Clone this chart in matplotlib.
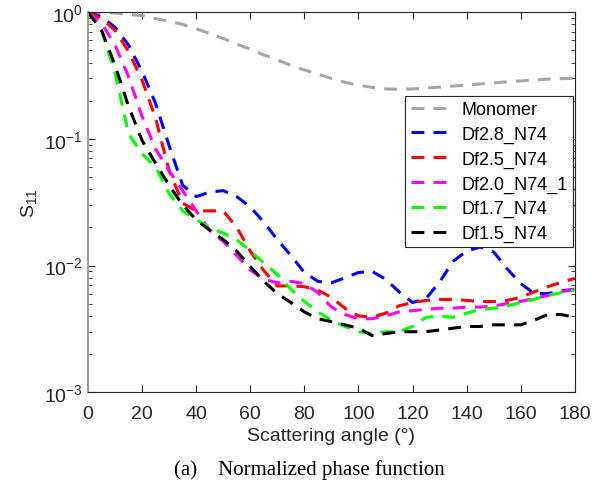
import matplotlib
matplotlib.use("Agg")
import matplotlib.pyplot as plt
from matplotlib.ticker import LogLocator, FixedLocator
import numpy as np

# ---------------------------------------------------------------------------
# Data (every 5 degrees)
# ---------------------------------------------------------------------------
angles = np.arange(0, 181, 5)

monomer = [1.0, 0.995, 0.985, 0.96, 0.94, 0.89, 0.85, 0.80, 0.74, 0.68,
           0.62, 0.56, 0.51, 0.46, 0.42, 0.38, 0.35, 0.325, 0.30, 0.28,
           0.265, 0.255, 0.248, 0.246, 0.248, 0.252, 0.256, 0.261, 0.266,
           0.271, 0.277, 0.282, 0.287, 0.292, 0.296, 0.299, 0.30]

df28 = [1.0, 0.92, 0.76, 0.55, 0.34, 0.19, 0.088, 0.043, 0.035, 0.038,
        0.039, 0.035, 0.029, 0.022, 0.016, 0.012, 0.0088, 0.0075, 0.0073,
        0.008, 0.0088, 0.009, 0.0078, 0.0062, 0.0051, 0.0055, 0.0074,
        0.0108, 0.013, 0.014, 0.0128, 0.0094, 0.0072, 0.006, 0.006, 0.0063,
        0.0065]

df25 = [1.0, 0.89, 0.72, 0.49, 0.29, 0.145, 0.056, 0.031, 0.027, 0.027,
        0.027, 0.020, 0.013, 0.0091, 0.0069, 0.0069, 0.0068, 0.0064, 0.0056,
        0.0046, 0.0040, 0.0039, 0.0042, 0.0048, 0.0051, 0.0053, 0.0054,
        0.0054, 0.0053, 0.0052, 0.0052, 0.0053, 0.0056, 0.0062, 0.0068,
        0.0074, 0.0079]

df20 = [1.0, 0.82, 0.55, 0.31, 0.15, 0.083, 0.056, 0.039, 0.027, 0.019,
        0.0155, 0.012, 0.0092, 0.0078, 0.0073, 0.0075, 0.0072, 0.0061,
        0.0047, 0.0041, 0.0038, 0.0038, 0.0040, 0.0043, 0.0044, 0.0045,
        0.0046, 0.0046, 0.0047, 0.0047, 0.0048, 0.0050, 0.0052, 0.0055,
        0.0058, 0.0062, 0.0065]

df17 = [1.0, 0.72, 0.33, 0.11, 0.076, 0.06, 0.037, 0.027, 0.023, 0.020,
        0.018, 0.016, 0.013, 0.0105, 0.0085, 0.0065, 0.0052, 0.0043, 0.0037,
        0.0033, 0.0030, 0.0029, 0.0030, 0.0030, 0.0033, 0.0039, 0.0040,
        0.0039, 0.0042, 0.0045, 0.0046, 0.0048, 0.0051, 0.0054, 0.0058,
        0.0061, 0.0064]

df15 = [1.0, 0.72, 0.38, 0.18, 0.097, 0.064, 0.043, 0.030, 0.023, 0.019,
        0.016, 0.013, 0.0098, 0.0075, 0.006, 0.0051, 0.0043, 0.0038, 0.0036,
        0.0034, 0.0032, 0.0028, 0.0029, 0.0030, 0.0030, 0.0030, 0.0031,
        0.0032, 0.0033, 0.0033, 0.0034, 0.0034, 0.0034, 0.0037, 0.0041,
        0.0041, 0.0039]

series = [monomer, df28, df25, df20, df17, df15]
labels = ["Monomer", "Df2.8_N74", "Df2.5_N74", "Df2.0_N74_1",
          "Df1.7_N74", "Df1.5_N74"]
colors = ["#a6a6a6", "#0000ff", "#ff0000", "#ff00ff", "#00ff00", "#000000"]

x_ticks = np.arange(0, 181, 20)

# ---------------------------------------------------------------------------
# Style
# ---------------------------------------------------------------------------
AX_COL = "#262626"
plt.rcParams.update({
    "font.family": ["Liberation Sans", "DejaVu Sans"],
    "mathtext.fontset": "custom",
    "mathtext.rm": "Liberation Sans",
    "mathtext.it": "Liberation Sans",
})

fig = plt.figure(figsize=(6.07, 4.89), dpi=100)
ax = fig.add_axes([0.145, 0.196, 0.802, 0.777])

for y, lab, c in zip(series, labels, colors):
    ax.plot(angles, y, color=c, lw=2.2, ls=(0, (4.2, 3.0)), label=lab)

ax.set_yscale("log")
ax.set_xlim(0, 180)
ax.set_ylim(1e-3, 1)
ax.xaxis.set_major_locator(FixedLocator(x_ticks))
ax.yaxis.set_major_locator(LogLocator(base=10, numticks=10))
ax.yaxis.set_minor_locator(LogLocator(base=10, subs=np.arange(2, 10), numticks=20))

ax.tick_params(which="both", direction="in", top=True, right=True,
               colors=AX_COL, labelsize=14, labelcolor=AX_COL)
ax.tick_params(which="major", length=5, width=0.8)
ax.tick_params(which="minor", length=3, width=0.6)
ax.tick_params(axis="x", pad=9)

for name, sp in ax.spines.items():
    sp.set_color(AX_COL)
    sp.set_linewidth(0.8)
ax.spines["left"].set_color("#a0a0a0")
ax.spines["left"].set_linewidth(1.6)

ax.set_xlabel("Scattering angle (°)", fontsize=14, color=AX_COL, labelpad=4)
ax.set_ylabel(r"S$_{11}$", fontsize=14, color=AX_COL, labelpad=4)

leg = ax.legend(loc="upper right", bbox_to_anchor=(0.996, 0.78),
                fontsize=13, frameon=True, fancybox=False, framealpha=1,
                handlelength=2.0, handletextpad=0.8, borderpad=0.3,
                labelspacing=0.42, borderaxespad=0)
leg.get_frame().set_edgecolor(AX_COL)
leg.get_frame().set_linewidth(0.8)
for t in leg.get_texts():
    t.set_color("#000000")

fig.text(0.51, 0.038, "(a)    Normalized phase function", ha="center",
         va="center", fontsize=15, family="Liberation Serif", color="#000000")

fig.savefig("out.png", dpi=100)
